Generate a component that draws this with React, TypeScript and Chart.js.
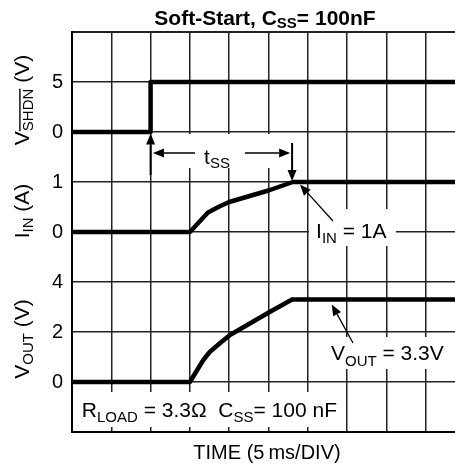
import React, { useEffect, useRef } from "react";
import { Chart, registerables } from "chart.js";

Chart.register(...registerables);

// ---- data (time in 5 ms divisions) ----
const shdnTime = [0, 2, 2, 10];
const shdnVolts = [0, 0, 5, 5];
const iinTime = [0, 3, 3.46, 3.75, 4, 5, 5.62, 10];
const iinAmps = [0, 0, 0.39, 0.51, 0.6, 0.83, 1.0, 1.0];
const voutTime = [0, 3, 3.34, 3.51, 3.77, 4.02, 5.04, 5.6, 10];
const voutVolts = [0, 0, 0.88, 1.21, 1.56, 1.88, 2.81, 3.3, 3.3];

// tick labels of each stacked panel
const shdnTicks = [0, 5];
const iinTicks = [0, 1];
const voutTicks = [0, 2, 4];

// panel placement on the shared 8-division vertical grid
const SHDN_BASE = 6, SHDN_K = 1 / 5;
const IIN_BASE = 4, IIN_K = 1;
const VOUT_BASE = 1, VOUT_K = 1 / 2;

const FONT = "Arial, 'Liberation Sans', Helvetica, sans-serif";

const labelMap = new Map<number, string>();
shdnTicks.forEach((v) => labelMap.set(SHDN_BASE + v * SHDN_K, String(v)));
iinTicks.forEach((v) => labelMap.set(IIN_BASE + v * IIN_K, String(v)));
voutTicks.forEach((v) => labelMap.set(VOUT_BASE + v * VOUT_K, String(v)));

type Part = { t: string; sub?: boolean; over?: boolean };

function drawRich(
  ctx: CanvasRenderingContext2D,
  parts: Part[],
  x: number,
  y: number,
  size: number,
  subSize: number,
  drop: number,
  align: "left" | "center" = "left",
  bold = false
) {
  const f = (s: number) => `${bold ? "bold " : ""}${s}px ${FONT}`;
  let total = 0;
  for (const p of parts) {
    ctx.font = f(p.sub ? subSize : size);
    total += ctx.measureText(p.t).width;
  }
  let cx = align === "center" ? x - total / 2 : x;
  ctx.textAlign = "left";
  ctx.textBaseline = "alphabetic";
  ctx.fillStyle = "#000";
  for (const p of parts) {
    ctx.font = f(p.sub ? subSize : size);
    const pw = ctx.measureText(p.t).width;
    const py = p.sub ? y + drop : y;
    ctx.fillText(p.t, cx, py);
    if (p.over) ctx.fillRect(cx, py - subSize * 0.72 - 3, pw, 1.4);
    cx += pw;
  }
}

function arrow(ctx: CanvasRenderingContext2D, x1: number, y1: number, x2: number, y2: number, lw = 1.6) {
  const ang = Math.atan2(y2 - y1, x2 - x1);
  const hl = 11, hw = 4.5;
  const bx = x2 - hl * Math.cos(ang), by = y2 - hl * Math.sin(ang);
  ctx.strokeStyle = "#000";
  ctx.lineWidth = lw;
  ctx.beginPath();
  ctx.moveTo(x1, y1);
  ctx.lineTo(bx, by);
  ctx.stroke();
  ctx.fillStyle = "#000";
  ctx.beginPath();
  ctx.moveTo(x2, y2);
  ctx.lineTo(bx + hw * Math.sin(ang), by - hw * Math.cos(ang));
  ctx.lineTo(bx - hw * Math.sin(ang), by + hw * Math.cos(ang));
  ctx.closePath();
  ctx.fill();
}

// white label backgrounds [x0, x1, row0, row1] in axis units
const boxes = [
  [2.1, 5.55, 5.28, 5.96],
  [6.03, 8.24, 3.72, 4.46],
  [6.46, 9.54, 1.26, 1.9],
  [0.05, 6.95, 0.1, 0.8],
];

const annot = {
  id: "annot",
  beforeDatasetsDraw(chart: any) {
    const { ctx, scales } = chart;
    const X = (v: number) => scales.x.getPixelForValue(v);
    const Y = (v: number) => scales.y.getPixelForValue(v);
    ctx.save();
    ctx.fillStyle = "#fff";
    for (const b of boxes) {
      ctx.fillRect(X(b[0]), Y(b[3]), X(b[1]) - X(b[0]), Y(b[2]) - Y(b[3]));
    }
    ctx.restore();
  },
  afterDatasetsDraw(chart: any) {
    const { ctx, scales } = chart;
    const X = (v: number) => scales.x.getPixelForValue(v);
    const Y = (v: number) => scales.y.getPixelForValue(v);
    ctx.save();
    // t_SS markers
    arrow(ctx, X(2), Y(5.14), X(2), Y(5.97), 2);
    arrow(ctx, X(3.13), Y(5.58), X(2.06), Y(5.58));
    arrow(ctx, X(4.4), Y(5.58), X(5.55), Y(5.58));
    arrow(ctx, X(5.6), Y(5.78), X(5.6), Y(5.02), 2);
    drawRich(ctx, [{ t: "t" }, { t: "SS", sub: true }], X(3.36), Y(5.36), 21, 15, 4);
    // I_IN pointer
    arrow(ctx, X(6.64), Y(4.22), X(5.8), Y(4.95), 1.3);
    drawRich(ctx, [{ t: "I" }, { t: "IN", sub: true }, { t: " = 1A" }], X(6.21), Y(3.88), 21, 15, 5);
    // V_OUT pointer
    arrow(ctx, X(7.15), Y(1.78), X(6.61), Y(2.55), 1.3);
    drawRich(ctx, [{ t: "V" }, { t: "OUT", sub: true }, { t: " = 3.3V" }], X(6.59), Y(1.44), 21, 15, 6);
    // conditions
    drawRich(
      ctx,
      [{ t: "R" }, { t: "LOAD", sub: true }, { t: " = 3.3\u03A9  C" }, { t: "SS", sub: true }, { t: "= 100 nF" }],
      X(0.25),
      Y(0.3),
      21,
      15,
      5
    );
    ctx.restore();
  },
  afterDraw(chart: any) {
    const { ctx } = chart;
    ctx.save();
    drawRich(ctx, [{ t: "Soft-Start, C" }, { t: "SS", sub: true }, { t: "= 100nF" }], 265, 25, 21, 15, 3, "center", true);
    drawRich(ctx, [{ t: "TIME (5\u2009ms/DIV)" }], 267, 459, 20, 15, 0, "center");
    const rot = (cy: number, parts: Part[]) => {
      ctx.save();
      ctx.translate(29, cy);
      ctx.rotate(-Math.PI / 2);
      drawRich(ctx, parts, 0, 0, 21, 15, 4, "center");
      ctx.restore();
    };
    rot(100, [{ t: "V" }, { t: "SHDN", sub: true, over: true }, { t: " (V)" }]);
    rot(211, [{ t: "I" }, { t: "IN", sub: true }, { t: " (A)" }]);
    rot(339, [{ t: "V" }, { t: "OUT", sub: true }, { t: " (V)" }]);
    ctx.restore();
  },
};

export default function App() {
  const ref = useRef<HTMLCanvasElement>(null);
  useEffect(() => {
    const canvas = ref.current!;
    const pts = (xs: number[], ys: number[], base: number, k: number) =>
      xs.map((x, i) => ({ x, y: base + ys[i] * k }));
    const ds = (data: any[]) => ({
      data,
      borderColor: "#000",
      borderWidth: 4.5,
      pointRadius: 0,
      tension: 0,
      fill: false,
      borderJoinStyle: "round" as const,
      borderCapStyle: "butt" as const,
    });
    const chart = new Chart(canvas, {
      type: "line",
      data: {
        datasets: [
          ds(pts(shdnTime, shdnVolts, SHDN_BASE, SHDN_K)),
          ds(pts(iinTime, iinAmps, IIN_BASE, IIN_K)),
          ds(pts(voutTime, voutVolts, VOUT_BASE, VOUT_K)),
        ],
      },
      options: {
        animation: false,
        responsive: false,
        devicePixelRatio: 1,
        layout: { padding: { top: 32, bottom: 36, left: 0, right: 15 } },
        plugins: { legend: { display: false }, tooltip: { enabled: false }, title: { display: false } },
        scales: {
          x: {
            type: "linear",
            min: 0,
            max: 10,
            ticks: { display: false, stepSize: 1 },
            grid: { color: "#222", lineWidth: 1.5, drawTicks: false },
            border: { color: "#000", width: 2 },
            afterFit: (s: any) => {
              s.height = 0;
            },
          },
          y: {
            type: "linear",
            min: 0,
            max: 8,
            ticks: {
              stepSize: 1,
              padding: 9,
              color: "#000",
              font: { family: FONT, size: 20 },
              callback: (v: any) => labelMap.get(Number(v)) ?? "",
            },
            grid: {
              color: "#222",
              lineWidth: (c: any) => (c.tick && c.tick.value === 8 ? 2 : 1.5),
              drawTicks: false,
            },
            border: { color: "#000", width: 2 },
            afterFit: (s: any) => {
              s.width = 72;
            },
          },
        },
      },
      plugins: [annot],
    });
    return () => chart.destroy();
  }, []);
  return (
    <div style={{ position: "fixed", left: 0, top: 0, width: 455, height: 468, overflow: "hidden", background: "#fff" }}>
      <canvas ref={ref} width={480} height={468} style={{ display: "block", width: 480, height: 468 }} />
    </div>
  );
}
